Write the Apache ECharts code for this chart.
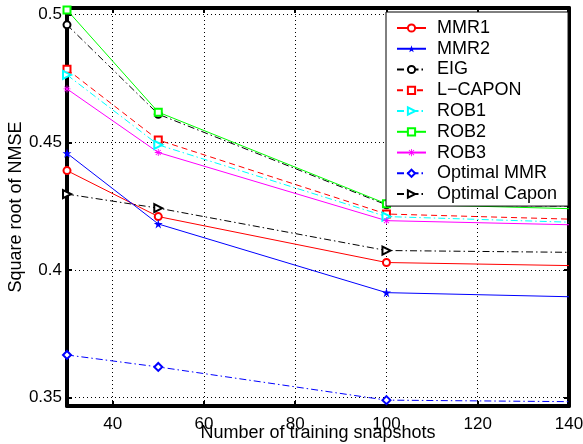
<!DOCTYPE html>
<html>
<head>
<meta charset="utf-8">
<script src="https://cdn.jsdelivr.net/npm/echarts@6/dist/echarts.min.js"></script>
<style>
  html, body { margin: 0; padding: 0; background: #fff; }
  #chart { width: 583px; height: 444px; }
</style>
</head>
<body>
<div id="chart"></div>
<script>
// Training snapshot counts (x positions of the runs)
const snapshots = [30, 50, 100, 140];

// Square root of NMSE for each estimator
const mmr1         = [0.4389, 0.4209, 0.4029, 0.4017];
const mmr2         = [0.4457, 0.4180, 0.3911, 0.3895];
const eig          = [0.4960, 0.4610, 0.4255, 0.4250];
const lCapon       = [0.4786, 0.4509, 0.4219, 0.4199];
const rob1         = [0.4764, 0.4490, 0.4209, 0.4187];
const rob2         = [0.5018, 0.4618, 0.4259, 0.4240];
const rob3         = [0.4709, 0.4460, 0.4193, 0.4177];
const optimalMmr   = [0.3667, 0.3620, 0.3490, 0.3484];
const optimalCapon = [0.4297, 0.4242, 0.4076, 0.4069];

const seriesNames = ['MMR1', 'MMR2', 'EIG', 'L\u2212CAPON', 'ROB1', 'ROB2', 'ROB3', 'Optimal MMR', 'Optimal Capon'];

const FONT = '"Liberation Sans", Arial, Helvetica, sans-serif';

// marker shapes
const STAR = 'path://M0,-100 L22.45,-30.9 L95.1,-30.9 L36.3,11.8 L58.8,80.9 L0,38.2 L-58.8,80.9 L-36.3,11.8 L-95.1,-30.9 L-22.45,-30.9 Z';
const ASTERISK = 'path://M-100,-12 L100,-12 L100,12 L-100,12 Z M-12,-100 L12,-100 L12,100 L-12,100 Z ' +
                 'M-79.2,-62.2 L-62.2,-79.2 L79.2,62.2 L62.2,79.2 Z M-62.2,79.2 L-79.2,62.2 L62.2,-79.2 L79.2,-62.2 Z';

const DASH_DOT = [7, 3, 1.5, 3];
const DASHED = [6, 4];

function makeSeries(name, values, color, lineType, symbol, opts) {
  opts = opts || {};
  const data = snapshots.map(function (x, i) {
    const item = { value: [x, values[i]] };
    // the last run sits on the right frame; its marker is not drawn
    if (i === snapshots.length - 1) item.symbol = 'none';
    return item;
  });
  return {
    name: name,
    type: 'line',
    data: data,
    symbol: symbol,
    symbolSize: opts.size || 7,
    symbolRotate: opts.rotate || 0,
    showSymbol: true,
    clip: true,
    animation: false,
    lineStyle: { color: color, width: 1, type: lineType },
    itemStyle: opts.filled ? { color: color } : { color: color, borderColor: color, borderWidth: 1 },
    emphasis: { disabled: true }
  };
}

const series = [
  makeSeries(seriesNames[0], mmr1,         '#ff0000', 'solid', 'emptyCircle'),
  makeSeries(seriesNames[1], mmr2,         '#0000ff', 'solid', STAR, { filled: true, size: 9 }),
  makeSeries(seriesNames[2], eig,          '#000000', DASH_DOT, 'emptyCircle'),
  makeSeries(seriesNames[3], lCapon,       '#ff0000', DASHED, 'emptyRect'),
  makeSeries(seriesNames[4], rob1,         '#00ffff', DASH_DOT, 'emptyTriangle', { rotate: -90, size: 8 }),
  makeSeries(seriesNames[5], rob2,         '#00ff00', 'solid', 'emptyRect'),
  makeSeries(seriesNames[6], rob3,         '#ff00ff', 'solid', ASTERISK, { filled: true, size: 7 }),
  makeSeries(seriesNames[7], optimalMmr,   '#0000ff', DASH_DOT, 'emptyDiamond', { size: 8 }),
  makeSeries(seriesNames[8], optimalCapon, '#000000', DASH_DOT, 'emptyTriangle', { rotate: -90, size: 8 })
];

const frameLine = { show: true, onZero: false, lineStyle: { color: '#000', width: 4 } };
const innerTick = { show: true, inside: true, length: 5, lineStyle: { color: '#000', width: 2 } };
const dotted = { show: true, lineStyle: { color: '#000', width: 1, type: [1, 3] } };

const X_MIN = 30, X_MAX = 140;
const Y_MIN = 0.3467, Y_MAX = 0.5026;

const chart = echarts.init(document.getElementById('chart'), null, { renderer: 'canvas' });
chart.setOption({
  backgroundColor: '#ffffff',
  animation: false,
  textStyle: { fontFamily: FONT },
  grid: { left: 67, right: 14, top: 8, bottom: 38, containLabel: false, outerBoundsMode: 'none' },
  legend: {
    orient: 'vertical',
    left: 386,
    top: 12,
    data: seriesNames,
    itemWidth: 29,
    itemHeight: 9,
    itemGap: 2.76,
    backgroundColor: '#ffffff',
    borderColor: '#000000',
    borderWidth: 1,
    borderRadius: 0,
    padding: [7, 11, 3, 10],
    selectedMode: false,
    textStyle: { fontFamily: FONT, fontSize: 18, color: '#000', lineHeight: 14, padding: [0, 0, 0, 6] }
  },
  xAxis: [
    {
      type: 'value', min: X_MIN, max: X_MAX, splitNumber: 5, minInterval: 20, maxInterval: 20,
      position: 'bottom',
      axisLine: frameLine, axisTick: innerTick, splitLine: dotted,
      axisLabel: { show: true, showMinLabel: false, margin: 10, color: '#000', fontSize: 17, fontFamily: FONT },
      name: 'Number of training snapshots', nameLocation: 'middle', nameGap: 18, nameMoveOverlap: false,
      nameTextStyle: { color: '#000', fontSize: 18, fontFamily: FONT }
    },
    {
      type: 'value', min: X_MIN, max: X_MAX, splitNumber: 5, minInterval: 20, maxInterval: 20,
      position: 'top',
      axisLine: frameLine, axisTick: innerTick, splitLine: { show: false },
      axisLabel: { show: false }
    }
  ],
  yAxis: [
    {
      type: 'value', min: Y_MIN, max: Y_MAX, splitNumber: 3, minInterval: 0.05, maxInterval: 0.05,
      position: 'left',
      axisLine: frameLine, axisTick: innerTick, splitLine: dotted,
      axisLabel: { show: true, showMinLabel: false, showMaxLabel: false, margin: 5, color: '#000', fontSize: 17, fontFamily: FONT },
      name: 'Square root of NMSE', nameLocation: 'middle', nameGap: 42, nameMoveOverlap: false,
      nameTextStyle: { color: '#000', fontSize: 18, fontFamily: FONT }
    },
    {
      type: 'value', min: Y_MIN, max: Y_MAX, splitNumber: 3, minInterval: 0.05, maxInterval: 0.05,
      position: 'right',
      axisLine: frameLine, axisTick: innerTick, splitLine: { show: false },
      axisLabel: { show: false }
    }
  ],
  series: series
});
</script>
</body>
</html>
